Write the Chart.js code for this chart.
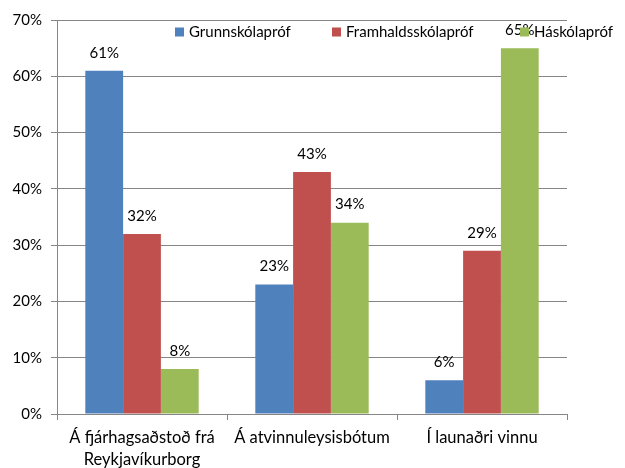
<!DOCTYPE html>
<html>
<head>
<meta charset="utf-8">
<script src="https://cdn.jsdelivr.net/npm/chart.js@4/dist/chart.umd.min.js"></script>
<style>
  html, body { margin: 0; padding: 0; background: #fff; }
  #wrap { width: 625px; height: 468px; position: relative; }
</style>
</head>
<body>
<div id="wrap"><canvas id="c" width="625" height="468"></canvas></div>
<script>
const categories = [["Á fjárhagsaðstoð frá", "Reykjavíkurborg"], "Á atvinnuleysisbótum", "Í launaðri vinnu"];
const seriesNames = ["Grunnskólapróf", "Framhaldsskólapróf", "Háskólapróf"];
const grunnskoli = [61, 23, 6];
const framhaldsskoli = [32, 43, 29];
const haskoli = [8, 34, 65];
const yTicks = [0, 10, 20, 30, 40, 50, 60, 70];
const colors = ["#4F81BD", "#C0504D", "#9BBB59"];

const FONT = "Lato, 'Open Sans', sans-serif";

const labelPlugin = {
  id: 'labels',
  afterDatasetsDraw(chart) {
    const ctx = chart.ctx;
    ctx.save();
    ctx.font = "15px " + FONT;
    ctx.fillStyle = "#000";
    ctx.textAlign = "center";
    ctx.textBaseline = "middle";
    chart.data.datasets.forEach((ds, i) => {
      const meta = chart.getDatasetMeta(i);
      meta.data.forEach((bar, j) => {
        ctx.fillText(ds.data[j] + "%", bar.x, bar.y - 18);
      });
    });
    ctx.restore();
  },
  afterDraw(chart) {
    const ctx = chart.ctx;
    const a = chart.chartArea;
    ctx.save();
    ctx.font = "15px " + FONT;
    ctx.textBaseline = "middle";
    ctx.textAlign = "left";
    const offs = [118, 275, 463];
    const y = a.top + 12;
    chart.data.datasets.forEach((ds, i) => {
      const x = a.left + offs[i];
      ctx.fillStyle = ds.backgroundColor;
      ctx.fillRect(x, y - 4.5, 9, 9);
      ctx.fillStyle = "#000";
      ctx.fillText(ds.label, x + 14, y);
    });
    ctx.restore();
  }
};

new Chart(document.getElementById('c'), {
  type: 'bar',
  data: {
    labels: categories,
    datasets: [
      { label: seriesNames[0], data: grunnskoli, backgroundColor: colors[0] },
      { label: seriesNames[1], data: framhaldsskoli, backgroundColor: colors[1] },
      { label: seriesNames[2], data: haskoli, backgroundColor: colors[2] }
    ]
  },
  options: {
    responsive: false,
    animation: false,
    devicePixelRatio: 1,
    layout: { padding: { left: 0, right: 58, top: 20, bottom: 0 } },
    plugins: { legend: { display: false }, tooltip: { enabled: false } },
    datasets: { bar: { categoryPercentage: 0.667, barPercentage: 1.0 } },
    scales: {
      x: {
        grid: { drawOnChartArea: false, drawTicks: true, tickLength: 6, color: "#868686", offset: true },
        border: { color: "#868686" },
        ticks: { color: "#000", font: { family: FONT, size: 16.5, lineHeight: 1.33 }, padding: 7, maxRotation: 0 },
        afterFit(axis) { axis.height = 54; }
      },
      y: {
        min: 0, max: 70,
        afterBuildTicks(axis) { axis.ticks = yTicks.map(v => ({ value: v })); },
        grid: { color: "#868686", tickLength: 6 },
        border: { color: "#868686" },
        ticks: { color: "#000", font: { family: FONT, size: 15 }, padding: 9, callback: v => v + "%" },
        afterFit(axis) { axis.width = 57; }
      }
    }
  },
  plugins: [labelPlugin]
});
</script>
</body>
</html>
